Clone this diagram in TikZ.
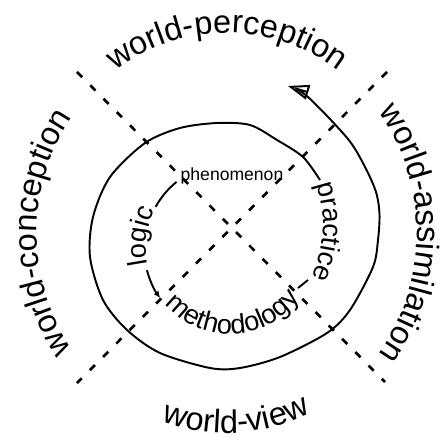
\documentclass[tikz,border=0pt]{standalone}
\usepackage{fontspec}
\setmainfont{Liberation Sans}
\usepackage{tikz}
\usetikzlibrary{arrows.meta,calc,decorations.text}

\newcommand{\ringfont}{\fontsize{18.5}{20}\selectfont}
\newcommand{\loopfont}{\fontsize{15.5}{17}\selectfont}

\tikzset{
  spiralline/.style={line width=1.1pt},
  crossdash/.style={line width=1.5pt,dash pattern=on 4.2pt off 6.5pt},
  ringlabel/.style={decorate,decoration={text along path,text align=center,text={|\ringfont|#1}}},
  looplabel/.style={decorate,decoration={text along path,text align=center,text={|\loopfont|#1}}},
}

\begin{document}
\begin{tikzpicture}
  \useasboundingbox (-4.64,-4.38) rectangle (4.24,4.54);
  \coordinate (oc) at (-0.10,-0.12); % centre of the outer words
  \coordinate (ic) at (-0.04,-0.42); % centre of the inner loop
  \coordinate (pc) at (-0.64,0.04);  % centre of the practice arc

  % dashed cross
  \coordinate (tl) at (-3.10,3.10);
  \coordinate (tr) at (3.10,3.10);
  \coordinate (bl) at (-3.10,-3.12);
  \coordinate (br) at (3.06,-3.10);
  \draw[crossdash] (tl) -- (br);
  \draw[crossdash] (tr) -- (bl);

  % outer words
  \path[ringlabel=world-perception] ($(oc)+(150:3.8cm and 4cm)$) arc[start angle=150,end angle=30,x radius=3.8cm,y radius=4cm];
  \path[ringlabel=world-assimilation] ($(oc)+(60:3.8cm and 4cm)$) arc[start angle=60,end angle=-60,x radius=3.8cm,y radius=4cm];
  \path[ringlabel=world-conception] ($(oc)+(240:3.8cm and 4cm)$) arc[start angle=240,end angle=120,x radius=3.8cm,y radius=4cm];
  \path[ringlabel=world-view] ($(oc)+(228:3.8cm and 4cm)$) arc[start angle=228,end angle=318,x radius=3.8cm,y radius=4cm];

  % inner words
  \node[font=\fontsize{10}{12}\selectfont,anchor=base,inner sep=0pt] (phen) at (0,0.92) {phenomenon};
  \path[looplabel=logic] ($(ic)+(205:1.68)$) arc[start angle=205,end angle=140,radius=1.68];
  \path[looplabel=methodology] ($(ic)+(200:1.72)$) arc[start angle=200,end angle=345,radius=1.72];
  \path[looplabel=practice] ($(pc)+(30:2.46)$) arc[start angle=30,end angle=-36,radius=2.46];

  % the spiral
  \draw[spiralline] ($(ic)+(129:1.70)$) arc[start angle=129,end angle=151,radius=1.70];
  \draw[spiralline,-{Latex[length=4pt,width=3.5pt]}] ($(ic)+(195:1.72)$) arc[start angle=195,end angle=216,radius=1.70];
  \draw[spiralline] (1.32,-1.22) -- (1.52,-1.06);
  \draw[spiralline,-{Triangle[open,length=12pt,width=8.5pt]}] plot[smooth] coordinates {
    (1.76,0.94) (1.42,1.40) (0.90,1.74) (0.36,2.04) (-0.30,2.08) (-1.04,1.98)
    (-1.74,1.68) (-2.44,1.00) (-2.78,0.20) (-2.84,-0.60) (-2.58,-1.46) (-2.10,-2.06)
    (-1.44,-2.52) (-0.44,-2.82) (0.16,-2.82) (0.96,-2.60) (1.90,-2.12) (2.36,-1.66)
    (2.82,-0.80) (2.92,-0.26) (2.95,0.26) (2.88,0.70) (2.66,1.20) (2.32,1.76)
    (1.52,2.60) (1.12,2.82)};
\end{tikzpicture}
\end{document}
